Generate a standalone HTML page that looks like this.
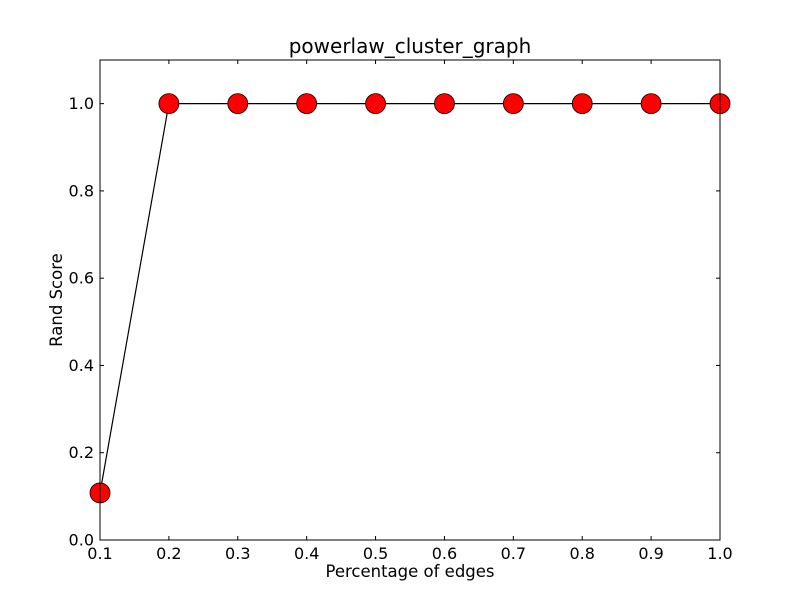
<!DOCTYPE html>
<html><head><meta charset="utf-8"><style>
html,body{margin:0;padding:0;background:#fff}
svg{display:block;font-family:"DejaVu Sans","Liberation Sans",sans-serif}
</style></head><body>
<svg id="chart" width="800" height="600" xmlns="http://www.w3.org/2000/svg">
<rect width="800" height="600" fill="#fff"/>
<text x="410" y="53" font-size="20" text-anchor="middle">powerlaw_cluster_graph</text>
<text x="410" y="577" font-size="16.5" text-anchor="middle">Percentage of edges</text>
<text x="62" y="300" font-size="16.5" text-anchor="middle" transform="rotate(-90 62 300)">Rand Score</text>
<g id="ticks"></g>
<g id="series"></g>
<rect x="100" y="60" width="620" height="480" fill="none" stroke="#000" stroke-width="1"/>
</svg>
<script>
const xValues = [0.1,0.2,0.3,0.4,0.5,0.6,0.7,0.8,0.9,1.0];
const yValues = [0.108,1,1,1,1,1,1,1,1,1];
const xTickLabels = ["0.1","0.2","0.3","0.4","0.5","0.6","0.7","0.8","0.9","1.0"];
const yTickLabels = ["0.0","0.2","0.4","0.6","0.8","1.0"];
const NS="http://www.w3.org/2000/svg";
const L=100,R=720,T=60,B=540;
const xs=v=>L+(v-0.1)/(1.0-0.1)*(R-L);
const ys=v=>B-v/1.1*(B-T);
function mk(tag,attrs,parent){const e=document.createElementNS(NS,tag);for(const k in attrs)e.setAttribute(k,attrs[k]);parent.appendChild(e);return e;}
const tg=document.getElementById('ticks');
xTickLabels.forEach(t=>{const x=xs(parseFloat(t));
 let l=mk('line',{x1:x,x2:x,y1:B,y2:B-4,stroke:'#000'},tg);
 
 
 let l2=mk('line',{x1:x,x2:x,y1:T,y2:T+4,stroke:'#000'},tg);
 
 
 let tx=mk('text',{x:x,y:B+19,'font-size':16,'text-anchor':'middle'},tg);tx.textContent=t;
 
 
});
yTickLabels.forEach(t=>{const y=ys(parseFloat(t));
 let l=mk('line',{x1:L,x2:L+4,y1:y,y2:y,stroke:'#000'},tg);
 
 
 let l2=mk('line',{x1:R,x2:R-4,y1:y,y2:y,stroke:'#000'},tg);
 
 
 let tx=mk('text',{x:L-6,y:y+5.5,'font-size':16,'text-anchor':'end'},tg);tx.textContent=t;
 
 
});
const sg=document.getElementById('series');
const pts=xValues.map((x,i)=>xs(x)+','+ys(yValues[i])).join(' ');
const pl=mk('polyline',{points:pts,fill:'none',stroke:'#000','stroke-width':1.2},sg);


xValues.forEach((x,i)=>{
 const c=mk('circle',{cx:xs(x),cy:ys(yValues[i]),r:10,fill:'#ff0000',stroke:'#000','stroke-width':0.8},sg);
 
 
});
</script>
</body></html>
